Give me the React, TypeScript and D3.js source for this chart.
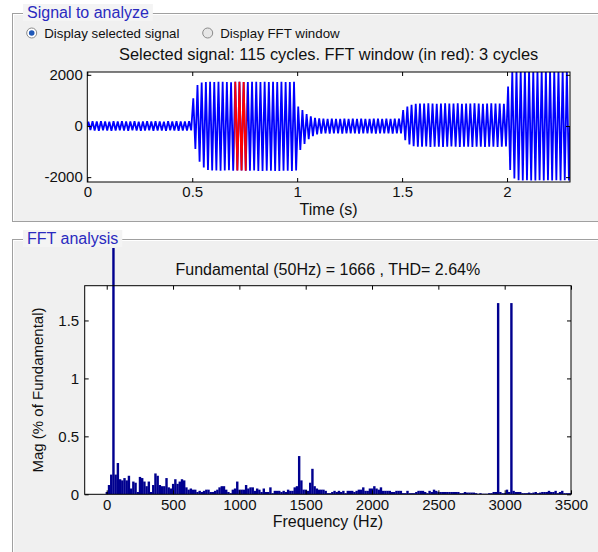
import React, { useRef, useEffect } from 'react';
import * as d3 from 'd3';

// signal: positive / negative peak of each 50 Hz cycle (115 cycles, 2.3 s)
const posPeaks = [
  170, 185, 175, 190, 180, 170, 185, 175, 190, 180, 175, 185, 170, 180, 190, 175, 185, 180, 170, 190, 175, 185, 180, 175, 185,
  1080, 1600, 1700, 1720, 1730, 1715, 1725, 1730, 1720, 1710, 1725, 1730, 1720, 1715, 1730, 1725, 1720, 1730, 1715, 1725, 1720, 1730, 1720, 1715, 1725,
  760, 620, 470, 380, 320, 300, 285, 280, 290, 280, 275, 285, 280, 290, 280, 285, 280, 275, 285, 290, 280, 285, 280, 290, 285,
  620, 760, 830, 870, 880, 875, 885, 880, 870, 880, 885, 875, 880, 885, 870, 880, 875, 885, 880, 870, 880, 885, 875, 880, 870,
  1540, 2150, 2200, 2200, 2200, 2200, 2200, 2200, 2200, 2200, 2200, 2200, 2200, 2200, 2200,
];
const negPeaks = [
  -160, -175, -185, -170, -180, -190, -175, -165, -180, -185, -170, -180, -190, -175, -170, -185, -180, -175, -190, -170, -180, -185, -175, -180, -170,
  -900, -1400, -1620, -1720, -1740, -1735, -1745, -1740, -1730, -1745, -1740, -1735, -1750, -1745, -1740, -1755, -1760, -1750, -1745, -1755, -1760, -1750, -1745, -1755, -1740,
  -940, -700, -520, -400, -330, -300, -290, -295, -285, -290, -295, -290, -285, -290, -295, -290, -285, -290, -295, -290, -285, -290, -295, -290, -290,
  -560, -720, -790, -810, -815, -805, -820, -810, -815, -825, -810, -805, -815, -820, -810, -815, -825, -810, -815, -820, -810, -815, -820, -810, -800,
  -1720, -2050, -2120, -2130, -2125, -2130, -2135, -2120, -2130, -2125, -2130, -2120, -2130, -2125, -2130,
];
const f0 = 50;
const windowStart = 0.7; // FFT window (3 cycles)
const windowCycles = 3;
const timeTicks = [0, 0.5, 1, 1.5, 2];
const signalTicks = [-2000, 0, 2000];

// FFT: one bar each 50/3 Hz, magnitude in % of fundamental (bin 3 = 50 Hz)
const binStep = 50 / 3;
const fftMag = [
  0.02, 0.08, 0.17, 100, 0.17, 0.27, 0.13, 0.12, 0.14, 0.12,
  0.16, 0.05, 0.11, 0.10, 0.02, 0.15, 0.14, 0.11, 0.07, 0.11,
  0.02, 0.08, 0.18, 0.16, 0.08, 0.07, 0.07, 0.14, 0.06, 0.05,
  0.09, 0.13, 0.09, 0.11, 0.13, 0.12, 0.06, 0.04, 0.05, 0.04,
  0.04, 0.02, 0.03, 0.02, 0.03, 0.04, 0.04, 0.02, 0.02, 0.03,
  0.04, 0.06, 0.07, 0.07, 0.04, 0.02, 0.01, 0.04, 0.05, 0.11,
  0.04, 0.04, 0.04, 0.08, 0.05, 0.06, 0.06, 0.03, 0.05, 0.04,
  0.02, 0.05, 0.02, 0.02, 0.06, 0.01, 0.03, 0.03, 0.03, 0.02,
  0.03, 0.02, 0.04, 0.03, 0.03, 0.06, 0.07, 0.33, 0.12, 0.04,
  0.04, 0.03, 0.10, 0.22, 0.07, 0.05, 0.04, 0.04, 0.04, 0.03,
  0.01, 0.01, 0.02, 0.03, 0.02, 0.03, 0.02, 0.03, 0.01, 0.03,
  0.03, 0.03, 0.02, 0.03, 0.04, 0.04, 0.06, 0.03, 0.03, 0.05,
  0.05, 0.07, 0.05, 0.04, 0.06, 0.03, 0.03, 0.03, 0.03, 0.02,
  0.02, 0.03, 0.03, 0.03, 0.01, 0.01, 0.03, 0.01, 0.01, 0.01,
  0.02, 0.03, 0.03, 0.03, 0.02, 0.01, 0.03, 0.02, 0.04, 0.03,
  0.02, 0.02, 0.02, 0.02, 0.02, 0.02, 0.02, 0.02, 0.02, 0.02,
  0.01, 0.01, 0.02, 0.015, 0.015, 0.015, 0.015, 0.01, 0.005, 0.01,
  0.005, 0.005, 0.005, 0.01, 0.01, 0.02, 0.02, 1.65, 0.02, 0.01,
  0.01, 0.04, 0.02, 1.65, 0.03, 0.02, 0.02, 0.02, 0.01, 0.01,
  0.01, 0.015, 0.01, 0.015, 0.02, 0.01, 0.015, 0.02, 0.02, 0.02,
  0.03, 0.02, 0.02, 0.03, 0.01, 0.02, 0.03, 0.01, 0.01, 0.01, 0.01,
];
const freqTicks = [0, 500, 1000, 1500, 2000, 2500, 3000, 3500];
const magTicks = [0, 0.5, 1, 1.5];

const signalTitle = 'Selected signal: 115 cycles. FFT window (in red): 3 cycles';
const fftTitle = 'Fundamental (50Hz) = 1666 , THD= 2.64%';

const FONT = 'Liberation Sans, Arial, sans-serif';
const fmtNum = (d: number) => String(d); // plain hyphen minus, like the original

function App() {
  const canvas = useRef<SVGSVGElement>(null);

  useEffect(() => {
    const svg = d3.select(canvas.current);
    svg.selectAll('*').remove();
    const defs = svg.append('defs');

    // panels
    const panel = (x: number, y: number, h: number, title: string) => {
      svg.append('rect').attr('x', x).attr('y', y).attr('width', 620).attr('height', h).attr('fill', '#f0f0f0');
      svg.append('rect').attr('x', x + 1.5).attr('y', y + 1.5).attr('width', 620).attr('height', h - 2)
        .attr('fill', 'none').attr('stroke', '#ffffff');
      svg.append('rect').attr('x', x + 0.5).attr('y', y + 0.5).attr('width', 620).attr('height', h - 1)
        .attr('fill', 'none').attr('stroke', '#a0a0a0');
      const t = svg.append('text').attr('x', x + 15).attr('y', y + 5).attr('font-family', FONT)
        .attr('font-size', 16).attr('fill', '#2a2abf').text(title);
      const w = (t.node() as SVGTextElement).getComputedTextLength();
      svg.insert('rect', () => t.node()).attr('x', x + 11).attr('y', y - 9).attr('width', w + 8).attr('height', 17)
        .attr('fill', '#f4f4f4');
    };
    panel(12, 13, 209, 'Signal to analyze');
    panel(12, 239, 330, 'FFT analysis');

    // radio buttons
    const radio = (cx: number, label: string, on: boolean) => {
      svg.append('circle').attr('cx', cx).attr('cy', 33).attr('r', 5)
        .attr('fill', on ? '#ffffff' : '#e6e6e6').attr('stroke', '#8a8a8a');
      if (on) svg.append('circle').attr('cx', cx).attr('cy', 33).attr('r', 2.8).attr('fill', '#1f58b8');
      svg.append('text').attr('x', cx + 12.5).attr('y', 37.5).attr('font-family', FONT)
        .attr('font-size', 13.3).attr('fill', '#111').text(label);
    };
    radio(31.7, 'Display selected signal', true);
    radio(207.7, 'Display FFT window', false);

    const drawAxes = (g: any, x: any, y: any, xt: number[], yt: number[], pad: number) => {
      const [x0, x1] = x.range();
      const [y0, y1] = y.range();
      const style = (sel: any) => {
        sel.select('.domain').remove();
        sel.selectAll('line').attr('stroke', '#000');
        sel.selectAll('text').attr('fill', '#111').attr('font-size', 15).attr('font-family', FONT);
        sel.attr('font-family', FONT).attr('font-size', 15);
      };
      g.append('g').attr('transform', `translate(0,${y0})`)
        .call(d3.axisBottom(x).tickValues(xt).tickFormat(fmtNum as any).tickSizeInner(-4).tickSizeOuter(0).tickPadding(pad)).call(style);
      g.append('g').attr('transform', `translate(0,${y1})`)
        .call(d3.axisTop(x).tickValues(xt).tickFormat(() => '').tickSizeInner(-4).tickSizeOuter(0)).call(style);
      g.append('g').attr('transform', `translate(${x0},0)`)
        .call(d3.axisLeft(y).tickValues(yt).tickFormat(fmtNum as any).tickSizeInner(-4).tickSizeOuter(0).tickPadding(pad)).call(style);
      g.append('g').attr('transform', `translate(${x1},0)`)
        .call(d3.axisRight(y).tickValues(yt).tickFormat(() => '').tickSizeInner(-4).tickSizeOuter(0)).call(style);
      g.append('rect').attr('x', x0).attr('y', y1).attr('width', x1 - x0).attr('height', y0 - y1)
        .attr('fill', 'none').attr('stroke', '#000').attr('stroke-width', 1);
    };

    // ---- signal plot
    const xT = d3.scaleLinear().domain([0, posPeaks.length / f0]).range([87.3, 570]);
    const yT = d3.scaleLinear().domain([-2190, 2110]).range([182, 72]);
    const pts: [number, number][] = [[0, 0]];
    posPeaks.forEach((p, i) => {
      pts.push([(i + 0.25) / f0, p]);
      pts.push([(i + 0.75) / f0, negPeaks[i]]);
    });
    pts.push([posPeaks.length / f0, 0]);

    const gT = svg.append('g');
    gT.append('rect').attr('x', 87.3).attr('y', 72).attr('width', 570 - 87.3).attr('height', 110).attr('fill', '#fff');
    defs.append('clipPath').attr('id', 'clipT').append('rect')
      .attr('x', 87.3).attr('y', 72).attr('width', 570 - 87.3).attr('height', 110);
    const tEnd = windowStart + windowCycles / f0;
    defs.append('clipPath').attr('id', 'clipRed').append('rect')
      .attr('x', xT(windowStart)).attr('y', 72).attr('width', xT(tEnd) - xT(windowStart)).attr('height', 110);
    const line = d3.line<[number, number]>().x((d) => xT(d[0])).y((d) => yT(d[1]));
    gT.append('path').attr('d', line(pts)).attr('clip-path', 'url(#clipT)')
      .attr('fill', 'none').attr('stroke', '#0000ff').attr('stroke-width', 1.8);
    gT.append('path').attr('d', line(pts.filter((d) => d[0] > windowStart - 0.012 && d[0] < tEnd + 0.012)))
      .attr('clip-path', 'url(#clipRed)')
      .attr('fill', 'none').attr('stroke', '#ff0000').attr('stroke-width', 1.8);
    drawAxes(gT, xT, yT, timeTicks, signalTicks, 4.5);
    gT.append('text').attr('x', (87.3 + 570) / 2).attr('y', 60).attr('text-anchor', 'middle')
      .attr('font-family', FONT).attr('font-size', 16.4).attr('fill', '#111').text(signalTitle);
    gT.append('text').attr('x', (87.3 + 570) / 2).attr('y', 215).attr('text-anchor', 'middle')
      .attr('font-family', FONT).attr('font-size', 16).attr('fill', '#111').text('Time (s)');

    // ---- FFT plot
    const xF = d3.scaleLinear().domain([-166, 3500]).range([84.7, 571]);
    const yF = d3.scaleLinear().domain([0, 1.8]).range([494.3, 285.7]);
    const gF = svg.append('g');
    gF.append('rect').attr('x', 84.7).attr('y', 285.7).attr('width', 571 - 84.7).attr('height', 494.3 - 285.7).attr('fill', '#fff');
    defs.append('clipPath').attr('id', 'clipF').append('rect')
      .attr('x', 84.7).attr('y', 248).attr('width', 571 - 84.7).attr('height', 494.3 - 248);
    const bw = xF(binStep) - xF(0);
    gF.append('g').attr('clip-path', 'url(#clipF)').selectAll('rect').data(fftMag).enter().append('rect')
      .attr('x', (d, i) => xF(i * binStep) - bw / 2)
      .attr('width', bw + 0.2)
      .attr('y', (d) => yF(d))
      .attr('height', (d) => yF(0) - yF(d))
      .attr('fill', '#00008f');
    drawAxes(gF, xF, yF, freqTicks, magTicks, 5.5);
    gF.append('text').attr('x', (84.7 + 571) / 2).attr('y', 275).attr('text-anchor', 'middle')
      .attr('font-family', FONT).attr('font-size', 16).attr('fill', '#111').text(fftTitle);
    gF.append('text').attr('x', (84.7 + 571) / 2).attr('y', 527).attr('text-anchor', 'middle')
      .attr('font-family', FONT).attr('font-size', 16).attr('fill', '#111').text('Frequency (Hz)');
    gF.append('text').attr('transform', `translate(43,${(285.7 + 494.3) / 2}) rotate(-90)`).attr('text-anchor', 'middle')
      .attr('font-family', FONT).attr('font-size', 15).attr('fill', '#111').text('Mag (% of Fundamental)');
  }, []);

  return (
    <svg ref={canvas} width={598} height={552}
      style={{ position: 'absolute', left: 0, top: 0, background: '#ffffff' }} />
  );
}

export default App;
